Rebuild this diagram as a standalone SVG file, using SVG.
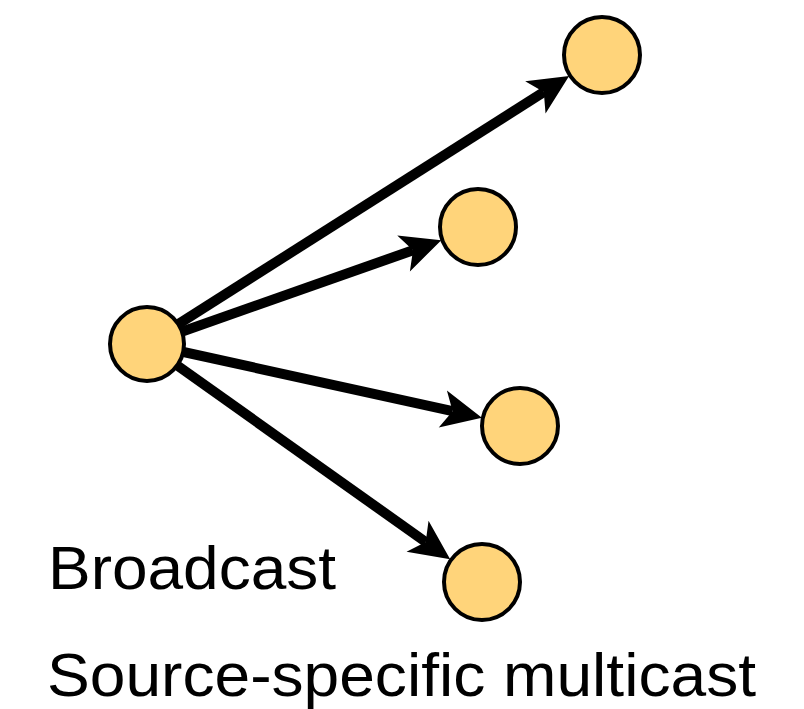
<svg xmlns="http://www.w3.org/2000/svg" width="804" height="709" viewBox="0 0 804 709">
  <style>
    .node { fill: #FFD47A; stroke: #000; stroke-width: 4; }
    .edge { stroke: #000; stroke-width: 10; fill: none; marker-end: url(#arrow); }
    .label { font-family: "Liberation Sans", Arial, sans-serif; font-size: 61px; fill: #000; }
  </style>
  <defs>
    <marker id="arrow" markerUnits="userSpaceOnUse" viewBox="-1 -20 42 40" refX="10" refY="0" markerWidth="42" markerHeight="40" orient="auto" overflow="visible">
      <path d="M0,-19 L40,0 L0,19 L10,0 Z" fill="#000"/>
    </marker>
  </defs>
  <rect width="804" height="709" fill="#fff"/>
  <g id="connectors">
    <line class="edge" x1="147" y1="344" x2="543.8" y2="92.0"/>
    <line class="edge" x1="147" y1="344" x2="413.0" y2="250.2"/>
    <line class="edge" x1="147" y1="344" x2="452.6" y2="411.2"/>
    <line class="edge" x1="147" y1="344" x2="425.7" y2="542.0"/>
  </g>
  <g id="source"><circle class="node" cx="147" cy="344" r="37"/></g>
  <g id="n1"><circle class="node" cx="602" cy="55" r="38"/></g>
  <g id="n2"><circle class="node" cx="478" cy="227" r="38"/></g>
  <g id="n3"><circle class="node" cx="520" cy="426" r="38"/></g>
  <g id="n4"><circle class="node" cx="482" cy="582" r="38"/></g>
  <g id="labels">
    <text class="label" x="48" y="589" textLength="288" lengthAdjust="spacingAndGlyphs">Broadcast</text>
    <text class="label" x="47" y="696" textLength="709" lengthAdjust="spacingAndGlyphs">Source-specific multicast</text>
  </g>
</svg>
